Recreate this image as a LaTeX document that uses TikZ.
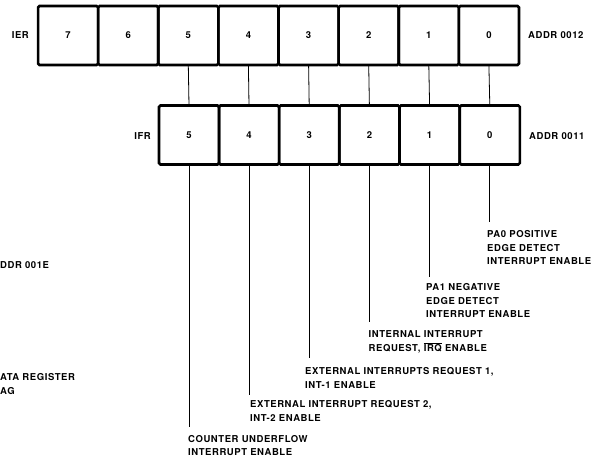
\documentclass[tikz,border=0pt]{standalone}
\usepackage{fontspec}
\setmainfont{TeX Gyre Heros}[LetterSpace=6.0]
\usepackage{tikz}
\usetikzlibrary{positioning}
\newcommand{\IRQbar}{$\overline{\mbox{IRQ}}$}

\begin{document}
\begin{tikzpicture}[x=1pt, y=-1pt,
    cell/.style={draw, line width=2.6pt, rounded corners=1.5pt, minimum width=60.1pt,
      minimum height=59pt, inner sep=0pt, outer sep=0pt, font=\fontsize{9.5}{11}\selectfont\bfseries},
    regname/.style={inner sep=0pt, font=\fontsize{9.5}{14}\selectfont\bfseries},
    bitnote/.style={inner sep=0pt, anchor=north west, align=left, font=\fontsize{9.5}{13.5}\selectfont\bfseries},
    tap/.style={line width=0.8pt}]
  \useasboundingbox (0,0) rectangle (613,458);
  % enable register
  \node[cell] (ier7) at (68.1,35.5) {7};
  \node[cell] (ier6) at (128.2,35.5) {6};
  \node[cell] (ier5) at (188.3,35.5) {5};
  \node[cell] (ier4) at (248.4,35.5) {4};
  \node[cell] (ier3) at (308.6,35.5) {3};
  \node[cell] (ier2) at (368.7,35.5) {2};
  \node[cell] (ier1) at (428.8,35.5) {1};
  \node[cell] (ier0) at (488.9,35.5) {0};
  \node[regname, anchor=east] (iername) at (29,35.5) {IER};
  \node[regname, anchor=west] (ieraddr) at (528,35.5) {ADDR 0012};
  % flag register
  \node[cell] (ifr5) at (189,135) {5};
  \node[cell] (ifr4) at (249,135) {4};
  \node[cell] (ifr3) at (309.2,135) {3};
  \node[cell] (ifr2) at (369.4,135) {2};
  \node[cell] (ifr1) at (429.6,135) {1};
  \node[cell] (ifr0) at (489.8,135) {0};
  \node[regname, anchor=east] (ifrname) at (151,136) {IFR};
  \node[regname, anchor=west] (ifraddr) at (529,136) {ADDR 0011};
  % links between the two registers
  \draw[tap] (ier5.south) -- (ifr5.north);
  \draw[tap] (ier4.south) -- (ifr4.north);
  \draw[tap] (ier3.south) -- (ifr3.north);
  \draw[tap] (ier2.south) -- (ifr2.north);
  \draw[tap] (ier1.south) -- (ifr1.north);
  \draw[tap] (ier0.south) -- (ifr0.north);
  % bit descriptions
  \coordinate (end0) at (489.8,222);
  \coordinate (end1) at (429.6,277);
  \coordinate (end2) at (369.4,322);
  \coordinate (end3) at (309.2,358);
  \coordinate (end4) at (249,395);
  \coordinate (end5) at (189,427);
  \draw[tap] (ifr0.south) -- (end0);
  \draw[tap] (ifr1.south) -- (end1);
  \draw[tap] (ifr2.south) -- (end2);
  \draw[tap] (ifr3.south) -- (end3);
  \draw[tap] (ifr4.south) -- (end4);
  \draw[tap] (ifr5.south) -- (end5);
  \node[bitnote] (note0) at (487,230.6) {PA0 POSITIVE\\EDGE DETECT\\INTERRUPT ENABLE};
  \node[bitnote] (note1) at (426,283.6) {PA1 NEGATIVE\\EDGE DETECT\\INTERRUPT ENABLE};
  \node[bitnote] (note2) at (368.5,330.6) {INTERNAL INTERRUPT\\REQUEST, \IRQbar{} ENABLE};
  \node[bitnote] (note3) at (305,367.6) {EXTERNAL INTERRUPTS REQUEST 1,\\INT-1 ENABLE};
  \node[bitnote] (note4) at (250,400.6) {EXTERNAL INTERRUPT REQUEST 2,\\INT-2 ENABLE};
  \node[bitnote] (note5) at (188,435.2) {COUNTER UNDERFLOW\\INTERRUPT ENABLE};
  % cut-off text at the left edge
  \node[regname, anchor=west] (cutaddr) at (0,265) {DDR 001E};
  \node[bitnote] (cutflag) at (0,373.6) {ATA REGISTER\\AG};
\end{tikzpicture}
\end{document}
